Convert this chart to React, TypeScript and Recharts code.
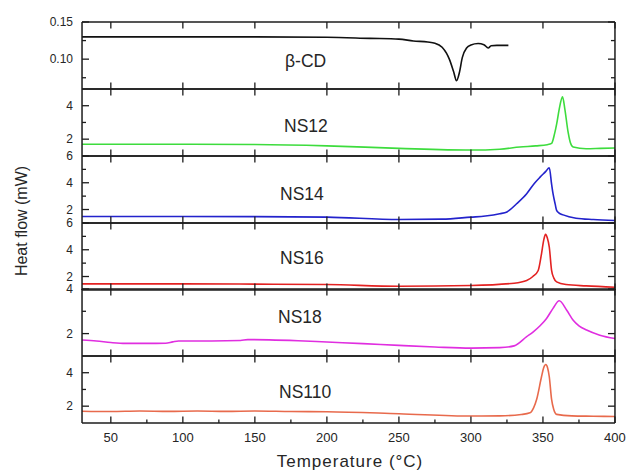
import React from 'react';
import { LineChart, Line, XAxis, YAxis } from 'recharts';

// DSC thermograms, heat flow (mW) vs temperature (°C)
const xTicks = [50, 100, 150, 200, 250, 300, 350, 400];
const xMinorTicks = [75, 125, 175, 225, 275, 325, 375];

const betaCD: [number, number][] = [
  [30, 0.130], [60, 0.130], [100, 0.130], [150, 0.130], [200, 0.1295], [230, 0.128],
  [250, 0.127], [260, 0.1245], [270, 0.123], [275, 0.1215], [280, 0.116], [283, 0.108],
  [285, 0.100], [288, 0.083], [290, 0.071], [292, 0.082], [294, 0.102], [297, 0.115],
  [300, 0.119], [305, 0.121], [309, 0.1195], [312, 0.115], [314, 0.118], [318, 0.1185],
  [326, 0.1185],
];

const ns12: [number, number][] = [
  [30, 1.7], [80, 1.7], [150, 1.68], [200, 1.6], [250, 1.45], [300, 1.35], [320, 1.4],
  [334, 1.53], [345, 1.6], [353, 1.67], [356, 1.75], [358, 2.3], [359.5, 2.9],
  [361.3, 3.8], [363.6, 4.53], [365.2, 3.8], [367.5, 2.4], [369, 1.8], [371, 1.53],
  [380, 1.43], [390, 1.45], [400, 1.47],
];

const ns14: [number, number][] = [
  [30, 1.48], [100, 1.48], [150, 1.47], [200, 1.43], [250, 1.25], [280, 1.28], [300, 1.43],
  [310, 1.51], [320, 1.68], [325, 1.82], [331.7, 2.43], [338.7, 3.18], [344, 3.95],
  [348, 4.42], [352, 4.85], [354.4, 5.12], [356, 3.9], [357, 3.18], [358.5, 2.4],
  [359.5, 1.93], [361, 1.75], [364, 1.6], [373, 1.35], [385, 1.25], [400, 1.18],
];

const ns16: [number, number][] = [
  [30, 1.45], [100, 1.45], [150, 1.43], [200, 1.4], [250, 1.27], [300, 1.33], [330, 1.5],
  [338.7, 1.7], [343, 2.0], [346.7, 2.45], [349, 3.7], [350.5, 4.7], [351.8, 5.15],
  [353, 4.9], [354.4, 4.2], [356, 2.45], [357.5, 1.9], [359.5, 1.6], [366, 1.4],
  [380, 1.3], [400, 1.2],
];

const ns18: [number, number][] = [
  [30, 1.71], [40, 1.67], [50, 1.6], [60, 1.56], [75, 1.56], [88, 1.57], [93, 1.63],
  [97, 1.67], [120, 1.67], [140, 1.69], [145, 1.73], [160, 1.72], [180, 1.68], [200, 1.62],
  [225, 1.55], [250, 1.47], [275, 1.4], [300, 1.35], [320, 1.37], [330, 1.45],
  [338.7, 1.86], [343.3, 2.08], [348, 2.35], [352.5, 2.68], [357, 3.13], [361.3, 3.47],
  [366.4, 3.06], [371, 2.6], [375, 2.35], [380.3, 2.16], [389.5, 1.93], [400, 1.78],
];

const ns110: [number, number][] = [
  [30, 1.7], [50, 1.68], [70, 1.71], [90, 1.69], [110, 1.71], [130, 1.69], [150, 1.71],
  [175, 1.68], [200, 1.67], [250, 1.55], [300, 1.41], [320, 1.42], [335, 1.5], [341, 1.6],
  [343.5, 1.9], [345.6, 2.4], [349, 3.76], [350.5, 4.3], [352, 4.49], [353.2, 4.3],
  [354.4, 3.76], [356, 2.4], [357.5, 1.8], [359.5, 1.51], [370, 1.42], [385, 1.4],
  [400, 1.38],
];

const FRAME = '#1c1c1c';
const TEXT = '#262626';
const FONT = '"Liberation Sans", Arial, Helvetica, sans-serif';

const W = 627;
const H = 472;
const LEFT = 82;
const RIGHT = 12;
const PLOT_TOP = 21.8;
const PANEL_H = 66.9;
const PAD = 10;

type Panel = {
  name: string;
  points: [number, number][];
  color: string;
  domain: [number, number];
  ticks: number[];
  labels: number[];
  digits: number;
  labelX: number;
  labelY: number;
};

const panels: Panel[] = [
  { name: 'β-CD', points: betaCD, color: '#111111', domain: [0.06, 0.15], ticks: [0.075, 0.1, 0.125, 0.15], labels: [0.1, 0.15], digits: 2, labelX: 285, labelY: 66.5 },
  { name: 'NS12', points: ns12, color: '#3ddc3d', domain: [1, 5], ticks: [2, 3, 4], labels: [2, 4], digits: 0, labelX: 284, labelY: 131.5 },
  { name: 'NS14', points: ns14, color: '#2323cc', domain: [1, 6], ticks: [2, 3, 4, 5, 6], labels: [2, 4, 6], digits: 0, labelX: 280, labelY: 200 },
  { name: 'NS16', points: ns16, color: '#e32222', domain: [1, 6], ticks: [2, 3, 4, 5, 6], labels: [2, 4, 6], digits: 0, labelX: 280, labelY: 264 },
  { name: 'NS18', points: ns18, color: '#e02ee0', domain: [1, 4], ticks: [2, 3, 4], labels: [2, 4], digits: 0, labelX: 278, labelY: 323 },
  { name: 'NS110', points: ns110, color: '#e86a4c', domain: [1, 5], ticks: [2, 3, 4], labels: [2, 4], digits: 0, labelX: 279, labelY: 398 },
];

const LeftTick = (props: any) => {
  const { x, y, payload, labels, digits } = props;
  const major = labels.includes(payload.value);
  return (
    <g>
      <line x1={x} x2={x + (major ? 7 : 4)} y1={y} y2={y} stroke={FRAME} strokeWidth={1.3} />
      {major && (
        <text x={x - 9} y={y} dy="0.36em" textAnchor="end" fontSize={12} fontFamily={FONT} fill={TEXT}>
          {payload.value.toFixed(digits)}
        </text>
      )}
    </g>
  );
};

const RightTick = (props: any) => {
  const { x, y, payload, labels } = props;
  const major = labels.includes(payload.value);
  return <line x1={x} x2={x - (major ? 7 : 4)} y1={y} y2={y} stroke={FRAME} strokeWidth={1.3} />;
};

const BottomTick = (props: any) => {
  const { x, y, payload, showLabels } = props;
  const major = xTicks.includes(payload.value);
  return (
    <g>
      <line x1={x} x2={x} y1={y} y2={y - (major ? 6.5 : 3.5)} stroke={FRAME} strokeWidth={1.3} />
      {showLabels && major && (
        <text x={x} y={y + 19} textAnchor="middle" fontSize={13} fontFamily={FONT} fill={TEXT}>
          {payload.value}
        </text>
      )}
    </g>
  );
};

const TopTick = (props: any) => {
  const { x, y } = props;
  return <line x1={x} x2={x} y1={y} y2={y + 6.5} stroke={FRAME} strokeWidth={1.3} />;
};

const axisLine = { stroke: FRAME, strokeWidth: 1.5 };

const PanelChart = ({ panel, index }: { panel: Panel; index: number }) => {
  const last = index === panels.length - 1;
  const top = PLOT_TOP + index * PANEL_H;
  const bottomH = last ? H - (top + PANEL_H) : PAD;
  const height = PAD + PANEL_H + bottomH;
  const data = panel.points.map(([t, v]) => ({ t, v }));

  return (
    <div style={{ position: 'absolute', left: 0, top: top - PAD }}>
      <LineChart width={W} height={height} data={data} margin={{ top: 0, right: 0, bottom: 0, left: 0 }}>
        <XAxis
          xAxisId="b"
          dataKey="t"
          type="number"
          domain={[30, 400]}
          allowDataOverflow
          ticks={last ? [...xTicks, ...xMinorTicks] : xTicks}
          interval={0}
          height={bottomH}
          tickSize={0}
          tickMargin={0}
          tickLine={false}
          axisLine={axisLine}
          tick={(p: any) => <BottomTick {...p} showLabels={last} />}
        />
        <XAxis
          xAxisId="t"
          orientation="top"
          dataKey="t"
          type="number"
          domain={[30, 400]}
          allowDataOverflow
          ticks={xTicks}
          interval={0}
          height={PAD}
          tickSize={0}
          tickMargin={0}
          tickLine={false}
          axisLine={axisLine}
          tick={(p: any) => <TopTick {...p} />}
        />
        <YAxis
          yAxisId="l"
          type="number"
          domain={panel.domain}
          allowDataOverflow
          ticks={panel.ticks}
          interval={0}
          width={LEFT}
          tickSize={0}
          tickMargin={0}
          tickLine={false}
          axisLine={axisLine}
          tick={(p: any) => <LeftTick {...p} labels={panel.labels} digits={panel.digits} />}
        />
        <YAxis
          yAxisId="r"
          orientation="right"
          type="number"
          domain={panel.domain}
          allowDataOverflow
          ticks={panel.ticks}
          interval={0}
          width={RIGHT}
          tickSize={0}
          tickMargin={0}
          tickLine={false}
          axisLine={axisLine}
          tick={(p: any) => <RightTick {...p} labels={panel.labels} />}
        />
        <Line
          xAxisId="b"
          yAxisId="l"
          dataKey="v"
          type="monotone"
          stroke={panel.color}
          strokeWidth={1.6}
          dot={false}
          isAnimationActive={false}
        />
      </LineChart>
    </div>
  );
};

export default function App() {
  return (
    <div style={{ position: 'absolute', left: 0, top: 0, width: W, height: H, background: '#fff', overflow: 'hidden' }}>
      {panels.map((p, i) => (
        <PanelChart key={p.name} panel={p} index={i} />
      ))}
      <svg width={W} height={H} style={{ position: 'absolute', left: 0, top: 0, pointerEvents: 'none' }}>
        {panels.map((p) => (
          <text key={p.name} x={p.labelX} y={p.labelY} fontSize={17.5} fontFamily={FONT} fill={TEXT}>
            {p.name}
          </text>
        ))}
        <text
          x={27}
          y={221}
          transform="rotate(-90 27 221)"
          textAnchor="middle"
          fontSize={16}
          fontFamily={FONT}
          fill={TEXT}
        >
          Heat flow (mW)
        </text>
        <text x={350} y={467} textAnchor="middle" fontSize={17} letterSpacing={1} fontFamily={FONT} fill={TEXT}>
          Temperature (°C)
        </text>
      </svg>
    </div>
  );
}
